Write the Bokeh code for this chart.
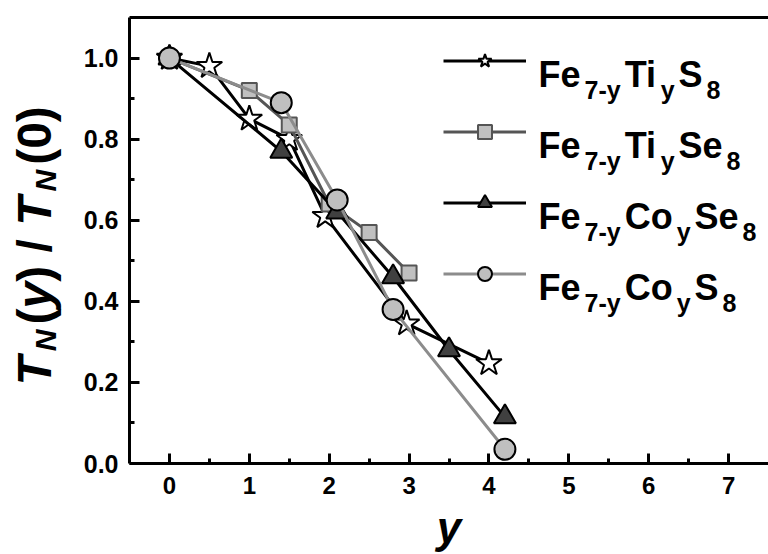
import math
from bokeh.plotting import figure
from bokeh.layouts import row
from bokeh.models import (Range1d, LinearAxis, FixedTicker, PrintfTickFormatter,
                          Label, Legend, LegendItem)
from bokeh.embed import file_html
from bokeh.resources import INLINE

# ---------------- data ----------------
ti_s_x = [0.0, 0.5, 1.0, 1.5, 1.95, 2.97, 4.0]
ti_s_y = [1.0, 0.98, 0.85, 0.80, 0.61, 0.345, 0.247]

ti_se_x = [0.0, 1.0, 1.5, 2.0, 2.5, 3.0]
ti_se_y = [1.0, 0.92, 0.835, 0.64, 0.57, 0.47]

co_se_x = [0.0, 1.4, 2.1, 2.8, 3.5, 4.2]
co_se_y = [1.0, 0.77, 0.62, 0.46, 0.28, 0.115]

co_s_x = [0.0, 1.4, 2.1, 2.8, 4.2]
co_s_y = [1.0, 0.89, 0.65, 0.38, 0.035]

x_ticks = [0, 1, 2, 3, 4, 5, 6, 7]
x_minor = [0.5, 1.5, 2.5, 3.5, 4.5, 5.5, 6.5]
y_ticks = [0.0, 0.2, 0.4, 0.6, 0.8, 1.0]
y_minor = [0.1, 0.3, 0.5, 0.7, 0.9]

# legend names as (text, subscript?) pieces
series_names = [
    [("Fe", 0), ("7-y", 1), ("Ti", 0), ("y", 1), ("S", 0), ("8", 1)],
    [("Fe", 0), ("7-y", 1), ("Ti", 0), ("y", 1), ("Se", 0), ("8", 1)],
    [("Fe", 0), ("7-y", 1), ("Co", 0), ("y", 1), ("Se", 0), ("8", 1)],
    [("Fe", 0), ("7-y", 1), ("Co", 0), ("y", 1), ("S", 0), ("8", 1)],
]
x_title = "y"
y_title = [("T", 0, "bold italic"), ("N", 1, "bold italic"), ("(", 0, "bold"),
           ("y", 0, "bold italic"), (")", 0, "bold"), (" / ", 0, "bold"),
           ("T", 0, "bold italic"), ("N", 1, "bold italic"), ("(0)", 0, "bold")]

FONT = "Liberation Sans"

# Arial/Liberation bold advance widths (per 1000 em)
ADV = {'F': 611, 'e': 556, '7': 556, '-': 333, 'y': 556, 'T': 611, 'i': 278,
       'S': 667, '8': 556, 'C': 722, 'o': 611, 'N': 722, '(': 333, ')': 333,
       '0': 556, ' ': 278, '/': 278}


def tw(s, size):
    return sum(ADV.get(c, 556) for c in s) * size / 1000.0


W, H = 768, 554
LW = 80                    # width of the strip holding the y title
FL, FT, FB = 128, 17, 464  # frame left, top, bottom (page px)

# ---------------- y-title strip ----------------
q = figure(width=LW, height=H, output_backend="svg", toolbar_location=None,
           x_range=Range1d(0, 1), y_range=Range1d(0, 1),
           x_axis_location=None, y_axis_location=None,
           min_border=0, outline_line_color=None,
           background_fill_color="white", border_fill_color="white")
q.grid.visible = False

YB, YS, YGAP = 48, 30, 5
base_x = 34
cur = 386
prev_sub = 0
for txt, sub, style in y_title:
    if sub != prev_sub:
        cur -= YGAP
    size = YS if sub else YB
    lead = len(txt) - len(txt.lstrip(" "))
    trail = len(txt) - len(txt.rstrip(" "))
    core = txt.strip(" ")
    cur -= tw(" " * lead, size)
    bx = base_x + (11 if sub else 0)
    q.add_layout(Label(x=bx, y=FB - cur, x_units="screen", y_units="screen",
                       text=core, text_font=FONT, text_font_style=style,
                       text_font_size=f"{size}px", text_color="black",
                       angle=math.pi / 2, text_align="left",
                       text_baseline="alphabetic"))
    cur -= tw(core, size) + tw(" " * trail, size)
    prev_sub = sub

# ---------------- main plot ----------------
p = figure(width=W - LW, height=H, output_backend="svg", toolbar_location=None,
           x_range=Range1d(-0.5, 7.5), y_range=Range1d(0.0, 1.1),
           min_border_left=FL - LW, min_border_right=0, min_border_top=FT,
           min_border_bottom=H - FB, outline_line_color=None,
           background_fill_color="white", border_fill_color="white")
p.xgrid.visible = False
p.ygrid.visible = False

for ax in (p.xaxis[0], p.yaxis[0]):
    ax.axis_line_width = 3
    ax.axis_line_color = "black"
    ax.major_tick_in = 10
    ax.major_tick_out = 0
    ax.minor_tick_in = 5
    ax.minor_tick_out = 0
    ax.major_tick_line_width = 3
    ax.minor_tick_line_width = 3
    ax.major_label_text_font = FONT
    ax.major_label_text_font_style = "bold"
    ax.major_label_text_color = "black"

p.xaxis[0].major_label_text_font_size = "24px"
p.yaxis[0].major_label_text_font_size = "25px"
p.xaxis[0].ticker = FixedTicker(ticks=x_ticks, minor_ticks=x_minor)
p.yaxis[0].ticker = FixedTicker(ticks=y_ticks, minor_ticks=y_minor)
p.yaxis[0].formatter = PrintfTickFormatter(format="%.1f")
p.xaxis[0].major_label_standoff = 13
p.yaxis[0].major_label_standoff = 11

p.xaxis[0].axis_label = x_title
p.xaxis[0].axis_label_text_font = FONT
p.xaxis[0].axis_label_text_font_style = "bold italic"
p.xaxis[0].axis_label_text_font_size = "44px"
p.xaxis[0].axis_label_text_color = "black"
p.xaxis[0].axis_label_standoff = 6

top = LinearAxis(ticker=FixedTicker(ticks=[]), axis_line_width=3,
                 major_label_text_font_size="0px", major_tick_out=0,
                 minor_tick_out=0, major_label_standoff=0)
p.add_layout(top, "above")

# ---------------- series ----------------
l1 = p.line(ti_s_x, ti_s_y, line_color="black", line_width=3)
m1 = p.scatter(ti_s_x, ti_s_y, marker="star", size=27, fill_color="white",
               line_color="black", line_width=2)
l2 = p.line(ti_se_x, ti_se_y, line_color="#555555", line_width=3)
m2 = p.scatter(ti_se_x, ti_se_y, marker="square", size=15, fill_color="#c0c0c0",
               line_color="#555555", line_width=2)
l3 = p.line(co_se_x, co_se_y, line_color="black", line_width=3)
m3 = p.scatter(co_se_x, co_se_y, marker="triangle", size=22, fill_color="#404040",
               line_color="black", line_width=2)
l4 = p.line(co_s_x, co_s_y, line_color="#8c8c8c", line_width=3)
m4 = p.scatter(co_s_x, co_s_y, marker="circle", size=21, fill_color="#bfbfbf",
               line_color="black", line_width=2)

# ---------------- legend (glyphs) ----------------
ROW0, ROWSP, GH = 61, 71, 35
items = [LegendItem(label=" ", renderers=[l, m]) for l, m in
         ((l1, m1), (l2, m2), (l3, m3), (l4, m4))]
legend_h = 4 * GH + 3 * (ROWSP - GH)
legend_bottom = ROW0 - GH / 2 + legend_h
leg = Legend(items=items, location=(442 - FL, FB - legend_bottom),
             glyph_width=83, glyph_height=GH, spacing=ROWSP - GH, padding=0,
             margin=0, label_standoff=0, label_width=0, label_height=0,
             label_text_font_size="1px", border_line_color=None,
             background_fill_alpha=0)
p.add_layout(leg, "center")

# legend texts
BIG, SUB, GAP = 36, 25, 4
TX0 = 537
for i, pieces in enumerate(series_names):
    rc = ROW0 + i * ROWSP
    x = TX0
    for txt, sub in pieces:
        size = SUB if sub else BIG
        base = rc + (29 if sub else 14)
        p.add_layout(Label(x=x - FL, y=FB - base, x_units="screen", y_units="screen",
                           text=txt, text_font=FONT, text_font_style="bold",
                           text_font_size=f"{size}px", text_color="black",
                           text_align="left", text_baseline="alphabetic"))
        x += tw(txt, size) + GAP

layout = row(q, p, spacing=0)
open("out.html", "w").write(file_html(layout, INLINE))
